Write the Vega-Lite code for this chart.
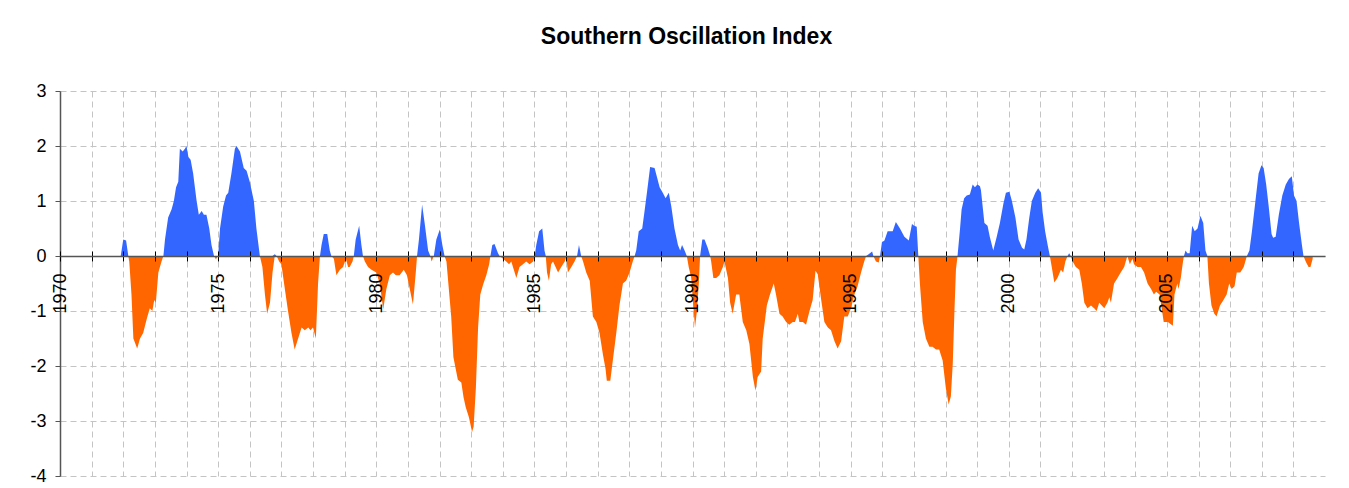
{
  "$schema": "https://vega.github.io/schema/vega-lite/v6.json",
  "width": 1265,
  "height": 385,
  "autosize": {"type": "none"},
  "padding": {"left": 60, "top": 91, "right": 24, "bottom": 12},
  "background": "white",
  "title": {"text": "Southern Oscillation Index", "fontSize": 23, "font": "Liberation Sans", "fontWeight": "bold", "color": "black", "anchor": "middle", "baseline": "alphabetic", "offset": 15, "dx": -6},
  "config": {"view": {"stroke": null}, "font": "Liberation Sans"},
  "data": {"values": [
{"t":1971.92,"v":0},{"t":1972.00,"v":0.3},{"t":1972.09,"v":0.28},{"t":1972.16,"v":0},{"t":1972.19,"v":-0.1},{"t":1972.26,"v":-0.7},{"t":1972.32,"v":-1.5},{"t":1972.44,"v":-1.68},{"t":1972.53,"v":-1.5},{"t":1972.63,"v":-1.4},{"t":1972.74,"v":-1.15},{"t":1972.84,"v":-0.95},{"t":1972.92,"v":-1.0},{"t":1972.98,"v":-0.8},{"t":1973.03,"v":-0.85},{"t":1973.11,"v":-0.3},{"t":1973.21,"v":-0.1},{"t":1973.27,"v":0},
{"t":1973.32,"v":0.3},{"t":1973.42,"v":0.7},{"t":1973.53,"v":0.85},{"t":1973.60,"v":1.0},{"t":1973.67,"v":1.25},{"t":1973.74,"v":1.35},{"t":1973.79,"v":1.95},{"t":1973.88,"v":1.9},{"t":1973.95,"v":1.95},{"t":1974.00,"v":2.0},{"t":1974.06,"v":1.8},{"t":1974.13,"v":1.75},{"t":1974.21,"v":1.5},{"t":1974.32,"v":1.0},{"t":1974.39,"v":0.75},{"t":1974.48,"v":0.82},{"t":1974.55,"v":0.75},{"t":1974.63,"v":0.75},{"t":1974.72,"v":0.5},{"t":1974.79,"v":0.2},{"t":1974.87,"v":0},{"t":1974.93,"v":-0.06},{"t":1975.00,"v":0},
{"t":1975.06,"v":0.5},{"t":1975.16,"v":0.9},{"t":1975.25,"v":1.1},{"t":1975.32,"v":1.15},{"t":1975.42,"v":1.5},{"t":1975.53,"v":1.95},{"t":1975.58,"v":2.0},{"t":1975.69,"v":1.9},{"t":1975.81,"v":1.6},{"t":1975.90,"v":1.55},{"t":1976.00,"v":1.35},{"t":1976.13,"v":1.0},{"t":1976.21,"v":0.5},{"t":1976.32,"v":0},
{"t":1976.40,"v":-0.2},{"t":1976.48,"v":-0.7},{"t":1976.55,"v":-1.05},{"t":1976.64,"v":-0.85},{"t":1976.72,"v":-0.3},{"t":1976.79,"v":0.03},{"t":1976.85,"v":0},{"t":1976.93,"v":-0.1},{"t":1977.00,"v":-0.15},{"t":1977.11,"v":-0.6},{"t":1977.21,"v":-1.0},{"t":1977.32,"v":-1.4},{"t":1977.42,"v":-1.7},{"t":1977.53,"v":-1.5},{"t":1977.64,"v":-1.3},{"t":1977.74,"v":-1.35},{"t":1977.85,"v":-1.3},{"t":1977.92,"v":-1.35},{"t":1978.00,"v":-1.3},{"t":1978.09,"v":-1.5},{"t":1978.16,"v":-0.5},{"t":1978.22,"v":0},
{"t":1978.27,"v":0.2},{"t":1978.34,"v":0.4},{"t":1978.45,"v":0.4},{"t":1978.53,"v":0.1},{"t":1978.58,"v":0},{"t":1978.66,"v":-0.05},{"t":1978.74,"v":-0.35},{"t":1978.85,"v":-0.25},{"t":1978.95,"v":-0.2},{"t":1979.04,"v":-0.05},{"t":1979.11,"v":-0.2},{"t":1979.16,"v":-0.2},{"t":1979.25,"v":-0.1},{"t":1979.29,"v":0},{"t":1979.35,"v":0.3},{"t":1979.46,"v":0.55},{"t":1979.53,"v":0.2},{"t":1979.58,"v":0},
{"t":1979.64,"v":-0.1},{"t":1979.74,"v":-0.2},{"t":1979.85,"v":-0.25},{"t":1980.00,"v":-0.3},{"t":1980.11,"v":-0.5},{"t":1980.22,"v":-0.97},{"t":1980.32,"v":-0.6},{"t":1980.43,"v":-0.35},{"t":1980.53,"v":-0.3},{"t":1980.62,"v":-0.35},{"t":1980.74,"v":-0.35},{"t":1980.87,"v":-0.25},{"t":1980.97,"v":-0.35},{"t":1981.06,"v":-0.6},{"t":1981.16,"v":-0.88},{"t":1981.25,"v":-0.3},{"t":1981.29,"v":0},
{"t":1981.35,"v":0.3},{"t":1981.45,"v":0.93},{"t":1981.53,"v":0.6},{"t":1981.64,"v":0.1},{"t":1981.71,"v":0},{"t":1981.75,"v":-0.1},{"t":1981.82,"v":0},{"t":1981.90,"v":0.3},{"t":1982.01,"v":0.48},{"t":1982.09,"v":0.2},{"t":1982.16,"v":0},
{"t":1982.22,"v":-0.1},{"t":1982.37,"v":-1.1},{"t":1982.44,"v":-1.84},{"t":1982.58,"v":-2.25},{"t":1982.69,"v":-2.3},{"t":1982.76,"v":-2.57},{"t":1982.83,"v":-2.75},{"t":1982.93,"v":-2.93},{"t":1983.03,"v":-3.2},{"t":1983.08,"v":-3.1},{"t":1983.15,"v":-2.4},{"t":1983.22,"v":-1.3},{"t":1983.29,"v":-0.7},{"t":1983.38,"v":-0.52},{"t":1983.48,"v":-0.35},{"t":1983.57,"v":-0.15},{"t":1983.61,"v":0},
{"t":1983.67,"v":0.2},{"t":1983.74,"v":0.22},{"t":1983.85,"v":0.05},{"t":1983.90,"v":0},{"t":1984.01,"v":-0.05},{"t":1984.11,"v":-0.1},{"t":1984.20,"v":-0.15},{"t":1984.27,"v":-0.1},{"t":1984.35,"v":-0.25},{"t":1984.43,"v":-0.4},{"t":1984.53,"v":-0.2},{"t":1984.64,"v":-0.15},{"t":1984.74,"v":-0.1},{"t":1984.85,"v":-0.15},{"t":1984.96,"v":-0.1},{"t":1985.01,"v":0},
{"t":1985.06,"v":0.2},{"t":1985.15,"v":0.45},{"t":1985.25,"v":0.5},{"t":1985.32,"v":0.1},{"t":1985.36,"v":0},{"t":1985.40,"v":-0.3},{"t":1985.46,"v":-0.45},{"t":1985.53,"v":-0.15},{"t":1985.59,"v":-0.1},{"t":1985.67,"v":-0.2},{"t":1985.75,"v":-0.3},{"t":1985.85,"v":-0.2},{"t":1985.96,"v":-0.1},{"t":1986.01,"v":-0.02},{"t":1986.06,"v":-0.3},{"t":1986.17,"v":-0.2},{"t":1986.27,"v":-0.1},{"t":1986.35,"v":0},{"t":1986.41,"v":0.2},{"t":1986.48,"v":0},
{"t":1986.54,"v":-0.1},{"t":1986.64,"v":-0.3},{"t":1986.75,"v":-0.45},{"t":1986.85,"v":-1.1},{"t":1986.96,"v":-1.2},{"t":1987.06,"v":-1.4},{"t":1987.17,"v":-1.8},{"t":1987.25,"v":-2.05},{"t":1987.29,"v":-2.27},{"t":1987.40,"v":-2.27},{"t":1987.48,"v":-1.9},{"t":1987.59,"v":-1.4},{"t":1987.69,"v":-0.9},{"t":1987.80,"v":-0.5},{"t":1987.90,"v":-0.45},{"t":1988.01,"v":-0.3},{"t":1988.11,"v":-0.1},{"t":1988.17,"v":0},
{"t":1988.22,"v":0.1},{"t":1988.30,"v":0.45},{"t":1988.41,"v":0.5},{"t":1988.48,"v":0.8},{"t":1988.57,"v":1.2},{"t":1988.66,"v":1.62},{"t":1988.80,"v":1.6},{"t":1988.87,"v":1.45},{"t":1988.96,"v":1.25},{"t":1989.06,"v":1.15},{"t":1989.15,"v":1.05},{"t":1989.25,"v":1.15},{"t":1989.33,"v":0.9},{"t":1989.43,"v":0.5},{"t":1989.54,"v":0.2},{"t":1989.61,"v":0.1},{"t":1989.67,"v":0.2},{"t":1989.75,"v":0.1},{"t":1989.82,"v":0},
{"t":1989.88,"v":-0.2},{"t":1989.96,"v":-0.4},{"t":1990.01,"v":-0.8},{"t":1990.08,"v":-1.3},{"t":1990.14,"v":-1.0},{"t":1990.20,"v":-0.5},{"t":1990.24,"v":0},{"t":1990.31,"v":0.3},{"t":1990.38,"v":0.3},{"t":1990.48,"v":0.15},{"t":1990.56,"v":0},
{"t":1990.59,"v":-0.1},{"t":1990.66,"v":-0.4},{"t":1990.75,"v":-0.4},{"t":1990.85,"v":-0.35},{"t":1990.96,"v":-0.2},{"t":1991.01,"v":-0.1},{"t":1991.12,"v":-0.4},{"t":1991.19,"v":-0.85},{"t":1991.27,"v":-1.05},{"t":1991.38,"v":-0.7},{"t":1991.48,"v":-0.7},{"t":1991.59,"v":-1.2},{"t":1991.70,"v":-1.35},{"t":1991.80,"v":-1.6},{"t":1991.91,"v":-2.2},{"t":1991.99,"v":-2.45},{"t":1992.06,"v":-2.2},{"t":1992.17,"v":-2.1},{"t":1992.22,"v":-1.5},{"t":1992.35,"v":-0.9},{"t":1992.45,"v":-0.7},{"t":1992.57,"v":-0.5},{"t":1992.64,"v":-0.7},{"t":1992.75,"v":-1.05},{"t":1992.85,"v":-1.1},{"t":1992.96,"v":-1.2},{"t":1993.06,"v":-1.25},{"t":1993.17,"v":-1.2},{"t":1993.24,"v":-1.2},{"t":1993.33,"v":-1.05},{"t":1993.38,"v":-1.2},{"t":1993.49,"v":-1.2},{"t":1993.59,"v":-1.25},{"t":1993.70,"v":-1.0},{"t":1993.80,"v":-0.8},{"t":1993.89,"v":-0.27},{"t":1993.96,"v":-0.33},{"t":1994.07,"v":-0.8},{"t":1994.17,"v":-1.2},{"t":1994.28,"v":-1.3},{"t":1994.38,"v":-1.35},{"t":1994.49,"v":-1.55},{"t":1994.59,"v":-1.68},{"t":1994.70,"v":-1.55},{"t":1994.80,"v":-1.1},{"t":1994.91,"v":-1.1},{"t":1995.01,"v":-0.95},{"t":1995.12,"v":-0.7},{"t":1995.22,"v":-0.55},{"t":1995.33,"v":-0.3},{"t":1995.43,"v":-0.1},{"t":1995.49,"v":0},
{"t":1995.57,"v":0.03},{"t":1995.68,"v":0.08},{"t":1995.72,"v":0},{"t":1995.80,"v":-0.1},{"t":1995.89,"v":-0.12},{"t":1995.93,"v":0},{"t":1995.99,"v":0.25},{"t":1996.07,"v":0.28},{"t":1996.17,"v":0.45},{"t":1996.33,"v":0.45},{"t":1996.43,"v":0.62},{"t":1996.56,"v":0.5},{"t":1996.70,"v":0.35},{"t":1996.84,"v":0.28},{"t":1996.94,"v":0.58},{"t":1997.01,"v":0.55},{"t":1997.09,"v":0.53},{"t":1997.14,"v":0},
{"t":1997.19,"v":-0.5},{"t":1997.28,"v":-1.2},{"t":1997.38,"v":-1.5},{"t":1997.49,"v":-1.65},{"t":1997.59,"v":-1.65},{"t":1997.70,"v":-1.7},{"t":1997.80,"v":-1.7},{"t":1997.91,"v":-1.9},{"t":1998.01,"v":-2.4},{"t":1998.10,"v":-2.7},{"t":1998.17,"v":-2.55},{"t":1998.23,"v":-1.95},{"t":1998.28,"v":-1.05},{"t":1998.33,"v":-0.25},{"t":1998.38,"v":0},
{"t":1998.46,"v":0.5},{"t":1998.51,"v":0.85},{"t":1998.59,"v":1.05},{"t":1998.67,"v":1.1},{"t":1998.77,"v":1.12},{"t":1998.86,"v":1.3},{"t":1998.93,"v":1.25},{"t":1999.01,"v":1.3},{"t":1999.09,"v":1.27},{"t":1999.12,"v":1.2},{"t":1999.23,"v":0.6},{"t":1999.33,"v":0.55},{"t":1999.40,"v":0.35},{"t":1999.51,"v":0.1},{"t":1999.62,"v":0.35},{"t":1999.72,"v":0.6},{"t":1999.83,"v":0.95},{"t":1999.91,"v":1.15},{"t":2000.02,"v":1.17},{"t":2000.10,"v":1.0},{"t":2000.21,"v":0.7},{"t":2000.31,"v":0.3},{"t":2000.42,"v":0.15},{"t":2000.49,"v":0.12},{"t":2000.56,"v":0.3},{"t":2000.65,"v":0.7},{"t":2000.73,"v":1.0},{"t":2000.84,"v":1.15},{"t":2000.93,"v":1.23},{"t":2001.02,"v":1.15},{"t":2001.07,"v":0.8},{"t":2001.15,"v":0.45},{"t":2001.23,"v":0.2},{"t":2001.30,"v":0},
{"t":2001.36,"v":-0.2},{"t":2001.44,"v":-0.48},{"t":2001.54,"v":-0.4},{"t":2001.65,"v":-0.25},{"t":2001.72,"v":-0.3},{"t":2001.79,"v":-0.1},{"t":2001.86,"v":0},{"t":2001.91,"v":0.05},{"t":2001.96,"v":0},
{"t":2002.02,"v":-0.1},{"t":2002.12,"v":-0.2},{"t":2002.23,"v":-0.25},{"t":2002.31,"v":-0.5},{"t":2002.39,"v":-0.85},{"t":2002.49,"v":-0.95},{"t":2002.60,"v":-0.9},{"t":2002.70,"v":-0.95},{"t":2002.78,"v":-1.0},{"t":2002.86,"v":-0.85},{"t":2002.94,"v":-0.9},{"t":2003.02,"v":-0.95},{"t":2003.12,"v":-0.85},{"t":2003.18,"v":-0.75},{"t":2003.23,"v":-0.85},{"t":2003.33,"v":-0.5},{"t":2003.44,"v":-0.4},{"t":2003.54,"v":-0.3},{"t":2003.65,"v":-0.2},{"t":2003.75,"v":0},{"t":2003.83,"v":-0.15},{"t":2003.91,"v":-0.05},{"t":2003.96,"v":-0.15},{"t":2004.07,"v":-0.2},{"t":2004.18,"v":-0.2},{"t":2004.28,"v":-0.3},{"t":2004.39,"v":-0.5},{"t":2004.50,"v":-0.6},{"t":2004.59,"v":-0.7},{"t":2004.66,"v":-0.65},{"t":2004.77,"v":-0.7},{"t":2004.90,"v":-1.2},{"t":2005.03,"v":-1.2},{"t":2005.19,"v":-1.27},{"t":2005.24,"v":-0.7},{"t":2005.33,"v":-0.5},{"t":2005.37,"v":-0.6},{"t":2005.44,"v":-0.4},{"t":2005.51,"v":-0.1},{"t":2005.54,"v":0},
{"t":2005.59,"v":0.1},{"t":2005.65,"v":0.05},{"t":2005.72,"v":0.05},{"t":2005.80,"v":0.55},{"t":2005.88,"v":0.45},{"t":2005.97,"v":0.5},{"t":2006.06,"v":0.73},{"t":2006.15,"v":0.6},{"t":2006.22,"v":0.1},{"t":2006.28,"v":0},
{"t":2006.33,"v":-0.5},{"t":2006.41,"v":-0.9},{"t":2006.50,"v":-1.05},{"t":2006.57,"v":-1.1},{"t":2006.68,"v":-0.9},{"t":2006.79,"v":-0.8},{"t":2006.89,"v":-0.7},{"t":2006.97,"v":-0.5},{"t":2007.05,"v":-0.6},{"t":2007.14,"v":-0.55},{"t":2007.21,"v":-0.3},{"t":2007.32,"v":-0.3},{"t":2007.43,"v":-0.2},{"t":2007.53,"v":0},
{"t":2007.61,"v":0.1},{"t":2007.69,"v":0.45},{"t":2007.80,"v":1.0},{"t":2007.90,"v":1.5},{"t":2007.99,"v":1.65},{"t":2008.06,"v":1.6},{"t":2008.14,"v":1.3},{"t":2008.22,"v":0.9},{"t":2008.31,"v":0.4},{"t":2008.36,"v":0.33},{"t":2008.44,"v":0.35},{"t":2008.54,"v":0.75},{"t":2008.65,"v":1.1},{"t":2008.76,"v":1.3},{"t":2008.86,"v":1.4},{"t":2008.95,"v":1.45},{"t":2009.02,"v":1.1},{"t":2009.10,"v":1.0},{"t":2009.18,"v":0.6},{"t":2009.27,"v":0.2},{"t":2009.32,"v":0},
{"t":2009.39,"v":-0.1},{"t":2009.48,"v":-0.2},{"t":2009.54,"v":-0.2},{"t":2009.61,"v":-0.05}
  ]},
  "layer": [
    {
      "mark": {"type": "line", "strokeOpacity": 0},
      "encoding": {
        "x": {"field": "t", "type": "quantitative", "scale": {"domain": [1970, 2010], "nice": false, "zero": false},
              "axis": {"orient": "bottom", "values": [1970,1971,1972,1973,1974,1975,1976,1977,1978,1979,1980,1981,1982,1983,1984,1985,1986,1987,1988,1989,1990,1991,1992,1993,1994,1995,1996,1997,1998,1999,2000,2001,2002,2003,2004,2005,2006,2007,2008,2009],
                       "grid": true, "gridDash": [6, 4], "gridColor": "#c4c4c4", "gridWidth": 1, "ticks": false, "labels": false, "domain": false, "title": null, "zindex": 0}},
        "y": {"field": "v", "type": "quantitative", "scale": {"domain": [-4, 3], "nice": false, "zero": false},
              "axis": {"orient": "left", "values": [-4,-3,-2,-1,0,1,2,3], "grid": true, "gridDash": [6, 4], "gridColor": "#c4c4c4", "gridWidth": 1,
                       "tickSize": 5, "tickColor": "#555555", "domainColor": "#555555", "domainWidth": 1.5,
                       "labelFontSize": 18, "labelFont": "Liberation Sans", "labelColor": "#000000", "labelPadding": 9, "labelExpr": "'' + datum.value", "title": null, "zindex": 0}}
      }
    },
    {
      "mark": {"type": "area", "color": "#3366FF", "interpolate": "linear"},
      "encoding": {
        "x": {"field": "t", "type": "quantitative",
              "axis": {"orient": "top", "offset": -165, "values": [1970,1971,1972,1973,1974,1975,1976,1977,1978,1979,1980,1981,1982,1983,1984,1985,1986,1987,1988,1989,1990,1991,1992,1993,1994,1995,1996,1997,1998,1999,2000,2001,2002,2003,2004,2005,2006,2007,2008,2009],
                       "grid": false, "tickSize": 5, "tickColor": "#000000", "labels": false, "domain": false, "title": null, "zindex": 1}},
        "y": {"field": "v", "type": "quantitative", "scale": {"domain": [0, 3], "nice": false, "zero": false, "clamp": true, "range": [{"expr": "height*3/7"}, 0]}, "axis": null},
        "y2": {"datum": 0}
      }
    },
    {
      "mark": {"type": "area", "color": "#FF6600", "interpolate": "linear"},
      "encoding": {
        "x": {"field": "t", "type": "quantitative",
              "axis": {"orient": "bottom", "offset": -220, "values": [1970,1971,1972,1973,1974,1975,1976,1977,1978,1979,1980,1981,1982,1983,1984,1985,1986,1987,1988,1989,1990,1991,1992,1993,1994,1995,1996,1997,1998,1999,2000,2001,2002,2003,2004,2005,2006,2007,2008,2009],
                       "grid": false, "tickSize": 5, "tickColor": "#000000", "tickWidth": 1, "domain": true, "domainColor": "#555555", "domainWidth": 1.5,
                       "labelAngle": -90, "labelFontSize": 18, "labelFont": "Liberation Sans", "labelColor": "#000000", "labelPadding": 12, "labelFlush": false, "labelOverlap": false,
                       "labelExpr": "datum.value % 5 == 0 ? '' + datum.value : ''", "title": null, "zindex": 1}},
        "y": {"field": "v", "type": "quantitative", "scale": {"domain": [-4, 0], "nice": false, "zero": false, "clamp": true, "range": [{"expr": "height"}, {"expr": "height*3/7"}]}, "axis": null},
        "y2": {"datum": 0}
      }
    }
  ],
  "resolve": {"scale": {"y": "independent"}, "axis": {"x": "independent", "y": "independent"}}
}
